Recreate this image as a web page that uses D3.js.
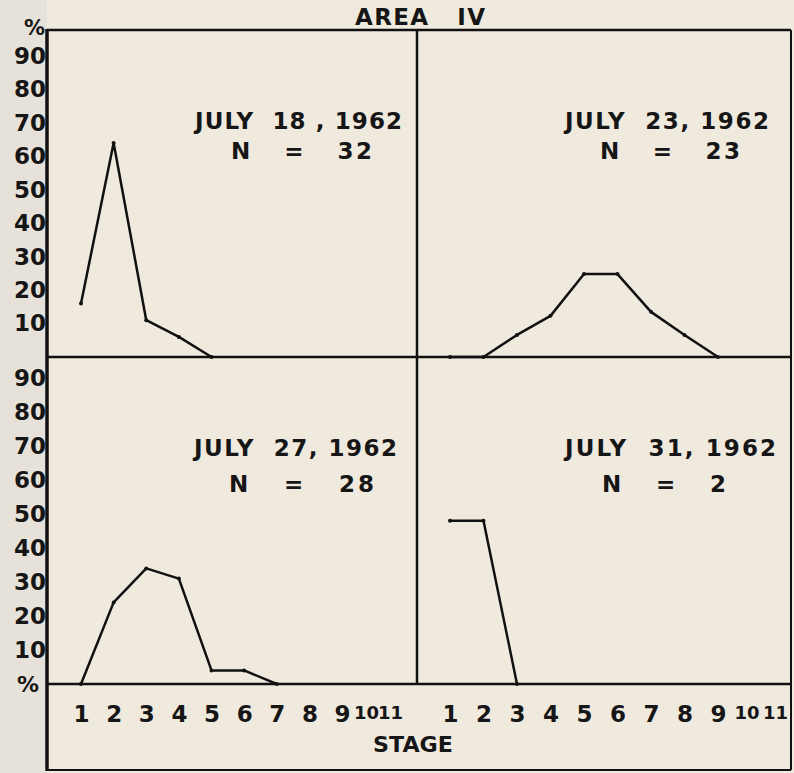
<!DOCTYPE html>
<html>
<head>
<meta charset="utf-8">
<script src="https://cdn.jsdelivr.net/npm/d3@7"></script>
<style>
  html, body { margin: 0; padding: 0; background: #f0e9de; }
  svg { display: block; }
  text { font-family: "DejaVu Sans", sans-serif; font-weight: bold; fill: #161616; }
</style>
</head>
<body>
<svg id="chart" width="794" height="773"></svg>
<script>
// ---------------- data ----------------
const title = "AREA   IV";
const stages = [1, 2, 3, 4, 5, 6, 7, 8, 9, 10, 11];
const yTicks = [10, 20, 30, 40, 50, 60, 70, 80, 90];
const xAxisTitle = "STAGE";

const datesTL = "JULY  18 , 1962";
const nTL = "N   =   32";
const seriesTL = [16, 64, 11, 6, 0];            // stages 1-5

const datesTR = "JULY  23, 1962";
const nTR = "N   =   23";
const seriesTR = [0, 0, 6.6, 12.3, 24.8, 24.8, 13.5, 6.6, 0]; // stages 1-9

const datesBL = "JULY  27, 1962";
const nBL = "N   =   28";
const seriesBL = [0, 24, 34, 31, 4, 4, 0];      // stages 1-7

const datesBR = "JULY  31, 1962";
const nBR = "N   =   2";
const seriesBR = [48, 48, 0];                   // stages 1-3

// ---------------- layout ----------------
const svg = d3.select("#chart");
const L = 47, R = 791, T = 30, MID = 357, BASE = 684, B = 770, VX = 417;
const INK = "#161616";

svg.append("rect").attr("x", 0).attr("y", 0).attr("width", 794).attr("height", 773).attr("fill", "#f0e9de");
svg.append("rect").attr("x", 0).attr("y", 0).attr("width", L).attr("height", 773).attr("fill", "#e7e2d9");

const xLeft = d3.scaleLinear().domain([1, 9, 11]).range([81, 342, 390]);
const xRight = d3.scaleLinear().domain([1, 9, 11]).range([450, 718, 775]);
const yTop = d3.scaleLinear().domain([0, 90]).range([MID, 56]);
const yBot = d3.scaleLinear().domain([0, 90]).range([BASE, 378]);

// frame
const frame = svg.append("g").attr("stroke", "#111").attr("fill", "none");
frame.append("line").attr("x1", L).attr("x2", R).attr("y1", T).attr("y2", T).attr("stroke-width", 2.5);
frame.append("line").attr("x1", L).attr("x2", R).attr("y1", MID).attr("y2", MID).attr("stroke-width", 2.5);
frame.append("line").attr("x1", L).attr("x2", R).attr("y1", BASE).attr("y2", BASE).attr("stroke-width", 2.5);
frame.append("line").attr("x1", L).attr("x2", R).attr("y1", B).attr("y2", B).attr("stroke-width", 2);
frame.append("line").attr("x1", L).attr("x2", L).attr("y1", T - 1).attr("y2", B + 1).attr("stroke-width", 3.5);
frame.append("line").attr("x1", R).attr("x2", R).attr("y1", T).attr("y2", B).attr("stroke-width", 2);
frame.append("line").attr("x1", VX).attr("x2", VX).attr("y1", T).attr("y2", BASE).attr("stroke-width", 2.5);

// title
svg.append("text").attr("x", 420).attr("y", 25).attr("text-anchor", "middle")
  .attr("font-size", 23).attr("xml:space", "preserve")
  .attr("textLength", 130).attr("lengthAdjust", "spacing")
  .text(title);

// y axes
function yAxis(scale) {
  const g = svg.append("g").attr("transform", `translate(46,0)`)
    .call(d3.axisLeft(scale).tickValues(yTicks).tickSize(0).tickPadding(0).tickFormat(d3.format("d")));
  g.select(".domain").remove();
  g.selectAll("text").attr("font-size", 23).attr("fill", INK)
    .style("font-family", "DejaVu Sans, sans-serif").style("font-weight", "bold");
}
yAxis(yTop);
yAxis(yBot);
svg.append("text").attr("x", 45).attr("y", 35).attr("text-anchor", "end").attr("font-size", 21).text("%");
svg.append("text").attr("x", 39).attr("y", 692).attr("text-anchor", "end").attr("font-size", 22).text("%");

// x axes (stage labels)
function xAxis(scale) {
  const g = svg.append("g").attr("transform", `translate(0,${BASE})`)
    .call(d3.axisBottom(scale).tickValues(stages).tickSize(0).tickPadding(22).tickFormat(d3.format("d")));
  g.select(".domain").remove();
  g.selectAll("text").attr("fill", INK)
    .style("font-family", "DejaVu Sans, sans-serif").style("font-weight", "bold")
    .attr("font-size", d => d >= 10 ? 18 : 23);
}
xAxis(xLeft);
xAxis(xRight);
svg.append("text").attr("x", 413).attr("y", 752).attr("text-anchor", "middle").attr("font-size", 22)
  .attr("textLength", 80).attr("lengthAdjust", "spacingAndGlyphs").text(xAxisTitle);

// series
const line = (xs, ys) => d3.line().x((d, i) => xs(stages[i])).y(d => ys(d));
function series(data, xs, ys) {
  svg.append("path").datum(data).attr("d", line(xs, ys)(data))
    .attr("fill", "none").attr("stroke", "#111").attr("stroke-width", 2.5).attr("stroke-linejoin", "round");
  svg.append("g").selectAll("circle").data(data).join("circle")
    .attr("cx", (d, i) => xs(stages[i])).attr("cy", d => ys(d)).attr("r", 2).attr("fill", "#111");
}
series(seriesTL, xLeft, yTop);
series(seriesTR, xRight, yTop);
series(seriesBL, xLeft, yBot);
series(seriesBR, xRight, yBot);

// annotations
function label(txt, x, y, len) {
  svg.append("text").attr("x", x).attr("y", y).attr("font-size", 23).attr("xml:space", "preserve")
    .attr("textLength", len).attr("lengthAdjust", "spacing")
    .text(txt);
}
label(datesTL, 195, 129, 207);
label(nTL, 231, 159, 141);
label(datesTR, 565, 129, 204);
label(nTR, 600, 159, 140);
label(datesBL, 194, 456, 203);
label(nBL, 229, 492, 145);
label(datesBR, 565, 456, 211);
label(nBR, 602, 492, 124);
</script>
</body>
</html>
